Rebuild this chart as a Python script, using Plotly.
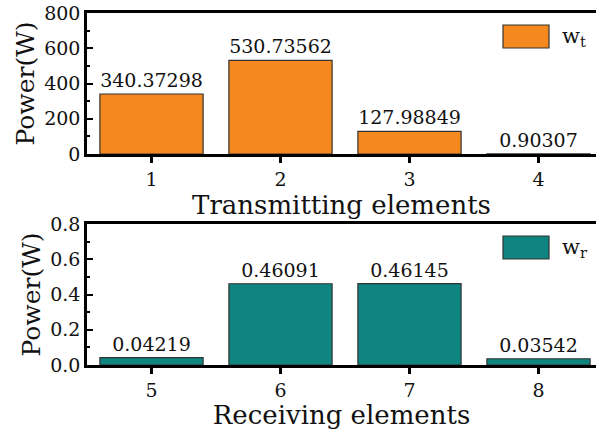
import plotly.graph_objects as go

tx_elements = [1, 2, 3, 4]
tx_power = [340.37298, 530.73562, 127.98849, 0.90307]
tx_labels = ["340.37298", "530.73562", "127.98849", "0.90307"]

rx_elements = [5, 6, 7, 8]
rx_power = [0.04219, 0.46091, 0.46145, 0.03542]
rx_labels = ["0.04219", "0.46091", "0.46145", "0.03542"]

orange = "#F5891F"
teal = "#0E8580"
FONT = "DejaVu Serif"
W, H = 596, 430

fig = go.Figure()
fig.add_trace(go.Bar(x=tx_elements, y=tx_power, text=tx_labels, textposition="outside",
                     cliponaxis=False, width=0.8,
                     marker=dict(color=orange, line=dict(color="#333333", width=1.2)),
                     textfont=dict(family=FONT, size=19, color="#111"),
                     xaxis="x", yaxis="y", showlegend=False))
fig.add_trace(go.Bar(x=rx_elements, y=rx_power, text=rx_labels, textposition="outside",
                     cliponaxis=False, width=0.8,
                     marker=dict(color=teal, line=dict(color="#333333", width=1.2)),
                     textfont=dict(family=FONT, size=19, color="#111"),
                     xaxis="x2", yaxis="y2", showlegend=False))

x0 = 87 / W
top_dom = [(H - 154) / H, (H - 13) / H]
bot_dom = [(H - 365) / H, (H - 224) / H]

xcommon = dict(showline=True, linecolor="black", linewidth=2.5, mirror=True,
               ticks="outside", ticklen=6, tickwidth=2.5, tickcolor="black",
               showgrid=False, zeroline=False, tickfont=dict(family=FONT, size=19, color="#111"),
               tickmode="array", automargin=False)
ycommon = dict(showline=True, linecolor="black", linewidth=2.5,
               ticks="inside", ticklen=6, tickwidth=2, tickcolor="black",
               showgrid=False, zeroline=False, tickfont=dict(family=FONT, size=19, color="#111"),
               automargin=False)

fig.update_layout(
    width=W, height=H,
    margin=dict(l=0, r=0, t=0, b=0),
    paper_bgcolor="white", plot_bgcolor="white",
    bargap=0.2,
    xaxis=dict(domain=[x0, 1], anchor="y", range=[0.5, 0.5 + 509 / 129],
               tickvals=tx_elements, ticktext=[str(v) for v in tx_elements],
               title=dict(text="Transmitting elements", font=dict(family=FONT, size=26, color="#111"), standoff=0),
               **xcommon),
    yaxis=dict(domain=top_dom, anchor="x", range=[0, 800], tickvals=[0, 200, 400, 600, 800],
               minor=dict(ticks="inside", ticklen=3, tickwidth=1.5, tickcolor="black", dtick=100),
               title=dict(text="Power(W)", font=dict(family=FONT, size=25, color="#111"), standoff=3),
               **ycommon),
    xaxis2=dict(domain=[x0, 1], anchor="y2", range=[4.5, 4.5 + 509 / 129],
                tickvals=rx_elements, ticktext=[str(v) for v in rx_elements],
                title=dict(text="Receiving elements", font=dict(family=FONT, size=26, color="#111"), standoff=0),
                **xcommon),
    yaxis2=dict(domain=bot_dom, anchor="x2", range=[0, 0.8], tickvals=[0, 0.2, 0.4, 0.6, 0.8],
                tickformat=".1f",
                minor=dict(ticks="inside", ticklen=3, tickwidth=1.5, tickcolor="black", dtick=0.1),
                title=dict(text="Power(W)", font=dict(family=FONT, size=25, color="#111"), standoff=3),
                **ycommon),
)

# legend-like boxes
legend_items = [("w<sub>t</sub>", orange, 25, 48), ("w<sub>r</sub>", teal, 236, 259)]
for label, col, yt, yb in legend_items:
    fig.add_shape(type="rect", xref="paper", yref="paper",
                  x0=503 / W, x1=549 / W, y0=(H - yb) / H, y1=(H - yt) / H,
                  fillcolor=col, line=dict(color="#333333", width=1.2))
    fig.add_annotation(text=label, xref="paper", yref="paper", x=560 / W, y=(H - (yt + yb) / 2) / H,
                       xanchor="left", yanchor="middle", showarrow=False,
                       font=dict(family=FONT, size=21, color="#111"))

fig.write_html("out.html")
